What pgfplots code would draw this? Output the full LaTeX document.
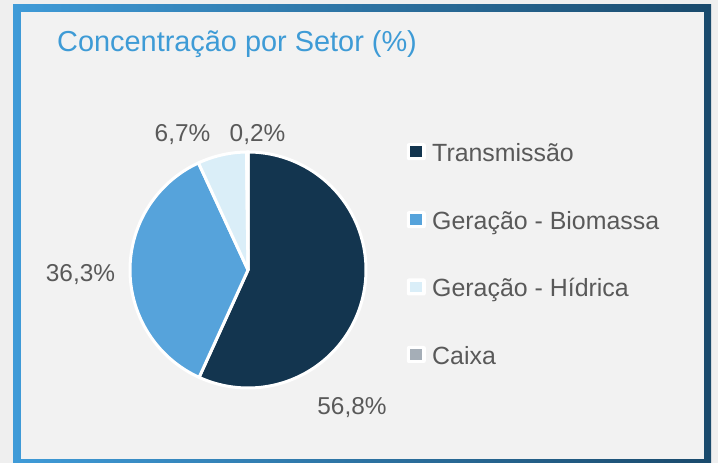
\documentclass[border=0pt]{standalone}
\usepackage{pgfplots}
\pgfplotsset{compat=1.18}
\usepackage{fontspec}
\setmainfont{Liberation Sans}
\definecolor{cT}{HTML}{13354F}
\definecolor{cB}{HTML}{56A3DB}
\definecolor{cH}{HTML}{DAEEF8}
\definecolor{cC}{HTML}{A5AEB7}
\definecolor{txt}{HTML}{595959}
\definecolor{ttl}{HTML}{3E9BD6}
\definecolor{bgin}{HTML}{F2F2F2}
\definecolor{bgout}{HTML}{EFEFEF}
\definecolor{bL}{HTML}{3F9BD8}
\definecolor{bR}{HTML}{1A4A6C}
% data (percent)
\def\vT{56.8}
\def\vB{36.3}
\def\vH{6.7}
\def\vC{0.2}
\pgfmathsetmacro\aA{90}
\pgfmathsetmacro\aB{\aA-3.6*\vT}
\pgfmathsetmacro\aC{\aB-3.6*\vB}
\pgfmathsetmacro\aD{\aC-3.6*\vH}
\pgfmathsetmacro\aE{\aD-3.6*\vC}
\def\cx{248}
\def\cy{193}
\def\R{118}
\newcommand\legentry[3]{%
  \node[fill=white, rounded corners=2bp, minimum width=19bp, minimum height=17bp, inner sep=0] at (axis cs:416.3,#1) {};
  \node[fill=#2, minimum width=12bp, minimum height=10.5bp, inner sep=0] at (axis cs:416.3,#1) {};
  \node[anchor=base west, text=txt, inner sep=0, font=\fontsize{25}{30}\selectfont] at (axis cs:432,#1-10) {#3};
}
\begin{document}
\begin{tikzpicture}[x=1bp,y=1bp]
\fill[bgout] (0,0) rectangle (718,463);
\shade[left color=bL, right color=bR] (13,0) rectangle (711,458);
\fill[bgin] (21,4) rectangle (703.5,450.5);
\begin{axis}[at={(0,0)}, anchor=south west, scale only axis,
  width=718bp, height=463bp, xmin=0, xmax=718, ymin=0, ymax=463,
  hide axis, clip=false]
\addplot[draw=white, line width=3bp, line join=round, fill=cT, domain=\aB:\aA, samples=120, variable=\t]
  ({\cx+\R*cos(\t)},{\cy+\R*sin(\t)}) -- (axis cs:\cx,\cy) -- cycle;
\addplot[draw=white, line width=3bp, line join=round, fill=cB, domain=\aC:\aB, samples=100, variable=\t]
  ({\cx+\R*cos(\t)},{\cy+\R*sin(\t)}) -- (axis cs:\cx,\cy) -- cycle;
\addplot[draw=white, line width=3bp, line join=round, fill=cH, domain=\aD:\aC, samples=30, variable=\t]
  ({\cx+\R*cos(\t)},{\cy+\R*sin(\t)}) -- (axis cs:\cx,\cy) -- cycle;
\addplot[draw=white, line width=3bp, line join=round, fill=cC, domain=\aE:\aD, samples=5, variable=\t]
  ({\cx+\R*cos(\t)},{\cy+\R*sin(\t)}) -- (axis cs:\cx,\cy) -- cycle;
% title
\node[anchor=base west, text=ttl, inner sep=0, font=\fontsize{29}{34}\selectfont] at (axis cs:57,411) {Concentração por Setor (\%)};
% data labels
\node[anchor=base, text=txt, inner sep=0, font=\fontsize{24.5}{28}\selectfont] at (axis cs:352,48) {56,8\%};
\node[anchor=base, text=txt, inner sep=0, font=\fontsize{24.5}{28}\selectfont] at (axis cs:80.5,181) {36,3\%};
\node[anchor=base, text=txt, inner sep=0, font=\fontsize{24.5}{28}\selectfont] at (axis cs:182.5,321) {6,7\%};
\node[anchor=base, text=txt, inner sep=0, font=\fontsize{24.5}{28}\selectfont] at (axis cs:257.5,321) {0,2\%};
% legend
\legentry{311.3}{cT}{Transmissão}
\legentry{243.3}{cB}{Geração - Biomassa}
\legentry{176}{cH}{Geração - Hídrica}
\legentry{108.5}{cC}{Caixa}
\end{axis}
\end{tikzpicture}
\end{document}
